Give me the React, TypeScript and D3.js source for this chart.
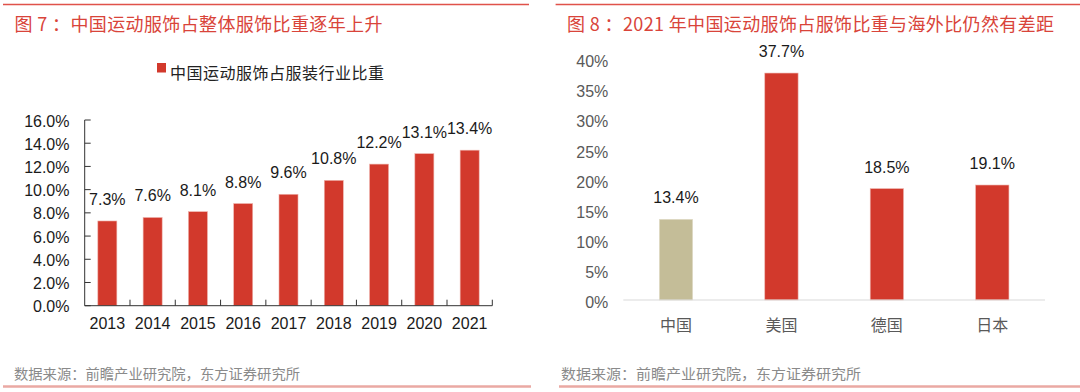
import React from "react";
import * as d3 from "d3";

// left chart: share of sportswear in total apparel, by year
const years = ["2013", "2014", "2015", "2016", "2017", "2018", "2019", "2020", "2021"];
const shareByYear = [7.3, 7.6, 8.1, 8.8, 9.6, 10.8, 12.2, 13.1, 13.4];
const leftTicks = [0, 2, 4, 6, 8, 10, 12, 14, 16];

// right chart: 2021 comparison with other countries
const countries = ["中国", "美国", "德国", "日本"];
const shareByCountry = [13.4, 37.7, 18.5, 19.1];
const rightTicks = [0, 5, 10, 15, 20, 25, 30, 35, 40];

const RED = "#d2392c";
const BEIGE = "#c4bd98";
const TITLE_RED = "#d9443a";
const FONT = "'Liberation Sans', Arial, 'Noto Sans CJK SC', sans-serif";
const CJK = "'Noto Sans CJK SC', sans-serif";

const App = () => {
  // left scales
  const xL = d3.scaleBand<string>().domain(years).range([84.7, 492.3]).paddingInner(0.58).paddingOuter(0.29);
  const yL = d3.scaleLinear().domain([0, 16]).range([305.7, 120]);
  const stepL = xL.step();
  const boundaries = d3.range(years.length + 1).map((i) => 84.7 + i * stepL);

  // right scales
  const xR = d3.scaleBand<string>().domain(countries).range([623.3, 1045]).paddingInner(0.684).paddingOuter(0.342);
  const yR = d3.scaleLinear().domain([0, 40]).range([300, 59.2]);

  const fmt1 = d3.format(".1f");

  return (
    <div style={{ position: "absolute", left: 0, top: 0 }}>
      <svg width={1080} height={392} style={{ display: "block", background: "#fff" }}>
        {/* ---------- left panel ---------- */}
        <line x1={3} x2={529} y1={4.5} y2={4.5} stroke="#e0524a" strokeWidth={1.5} />
        <text x={14.5} y={31} fontFamily={CJK} fontSize={18} fill={TITLE_RED} textLength={368} lengthAdjust="spacing">
          图 7 ：中国运动服饰占整体服饰比重逐年上升
        </text>

        <rect x={157} y={63} width={9} height={9.5} fill={RED} />
        <text x={170} y={78.5} fontFamily={CJK} fontSize={16} fill="#222" textLength={214} lengthAdjust="spacing">
          中国运动服饰占服装行业比重
        </text>

        {leftTicks.map((t) => (
          <g key={"lt" + t}>
            <line x1={84.7} x2={90.7} y1={yL(t)} y2={yL(t)} stroke="#333" strokeWidth={1} />
            <text x={69.5} y={yL(t) + 6.5} textAnchor="end" fontFamily={FONT} fontSize={16} fill="#1a1a1a">
              {fmt1(t)}%
            </text>
          </g>
        ))}

        {years.map((yr, i) => {
          const v = shareByYear[i];
          const x = xL(yr)!;
          const w = xL.bandwidth();
          return (
            <g key={yr}>
              <rect x={x} y={yL(v)} width={w} height={yL(0) - yL(v)} fill={RED} stroke="#eeb3ac" strokeWidth={0.6} />
              <text x={x + w / 2} y={yL(v) - 16} textAnchor="middle" fontFamily={FONT} fontSize={16} fill="#1a1a1a">
                {fmt1(v)}%
              </text>
              <text x={x + w / 2} y={329.3} textAnchor="middle" fontFamily={FONT} fontSize={16} fill="#1a1a1a">
                {yr}
              </text>
            </g>
          );
        })}

        <line x1={84.7} x2={84.7} y1={120} y2={yL(0)} stroke="#333" strokeWidth={1} />
        <line x1={84.7} x2={492.3} y1={yL(0)} y2={yL(0)} stroke="#333" strokeWidth={1} />
        {boundaries.slice(1).map((bx, i) => (
          <line key={"xb" + i} x1={bx} x2={bx} y1={yL(0)} y2={yL(0) - 6} stroke="#333" strokeWidth={1} />
        ))}

        <text x={14} y={379} fontFamily={CJK} fontSize={14} fill="#8a8a8a" textLength={286} lengthAdjust="spacingAndGlyphs">
          数据来源：前瞻产业研究院，东方证券研究所
        </text>
        <line x1={3} x2={531} y1={386.5} y2={386.5} stroke="#eaa9a3" strokeWidth={2.5} />

        {/* ---------- right panel ---------- */}
        <line x1={555.6} x2={1080} y1={4.5} y2={4.5} stroke="#e0524a" strokeWidth={1.5} />
        <text x={567} y={31} fontFamily={CJK} fontSize={18} fill={TITLE_RED} textLength={487} lengthAdjust="spacing">
          图 8 ：2021 年中国运动服饰占服饰比重与海外比仍然有差距
        </text>

        {rightTicks.map((t) => (
          <text key={"rt" + t} x={608.3} y={yR(t) + 8} textAnchor="end" fontFamily={FONT} fontSize={16} fill="#595959">
            {t}%
          </text>
        ))}

        {countries.map((c, i) => {
          const v = shareByCountry[i];
          const x = xR(c)!;
          const w = xR.bandwidth();
          return (
            <g key={c}>
              <rect x={x} y={yR(v)} width={w} height={yR(0) - yR(v)} fill={i === 0 ? BEIGE : RED} stroke={i === 0 ? "#e2ddc8" : "#eeb3ac"} strokeWidth={0.6} />
              <text x={x + w / 2} y={yR(v) - 16} textAnchor="middle" fontFamily={FONT} fontSize={16} fill="#1a1a1a">
                {fmt1(v)}%
              </text>
              <text x={x + w / 2} y={331} textAnchor="middle" fontFamily={CJK} fontSize={16} fill="#595959">
                {c}
              </text>
            </g>
          );
        })}
        <line x1={623.3} x2={1045} y1={yR(0)} y2={yR(0)} stroke="#d9d9d9" strokeWidth={1} />

        <text x={561} y={379} fontFamily={CJK} fontSize={14} fill="#8a8a8a" textLength={300} lengthAdjust="spacingAndGlyphs">
          数据来源：前瞻产业研究院，东方证券研究所
        </text>
        <line x1={559} x2={1080} y1={386.5} y2={386.5} stroke="#eaa9a3" strokeWidth={2.5} />
      </svg>
    </div>
  );
};

export default App;
